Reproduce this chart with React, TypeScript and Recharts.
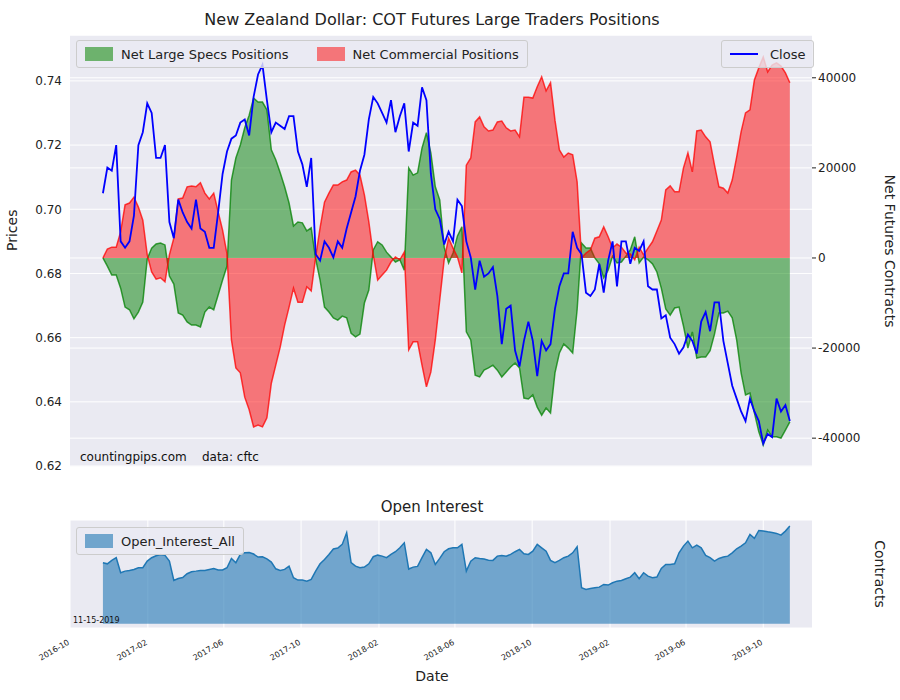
import { ComposedChart, AreaChart, Area, Line, XAxis, YAxis, CartesianGrid, Label } from 'recharts';

// weekly COT reports, first one 2016-11-22 (day 52 counted from 2016-10-01)
const FIRST_DAY = 52;

const closePrice = [
  0.705, 0.713, 0.712, 0.720, 0.690, 0.688, 0.690, 0.698, 0.720, 0.724, 0.733, 0.730, 0.716, 0.716, 0.720, 0.696,
  0.691, 0.703, 0.699, 0.696, 0.694, 0.703, 0.694, 0.693, 0.688, 0.688, 0.699, 0.711, 0.718, 0.722, 0.723, 0.727,
  0.728, 0.723, 0.735, 0.742, 0.745, 0.734, 0.724, 0.727, 0.726, 0.725, 0.729, 0.729, 0.718, 0.714, 0.707, 0.716,
  0.686, 0.684, 0.690, 0.688, 0.685, 0.690, 0.688, 0.694, 0.699, 0.704, 0.712, 0.717, 0.728, 0.735, 0.733, 0.730,
  0.727, 0.734, 0.724, 0.729, 0.733, 0.718, 0.727, 0.726, 0.738, 0.734, 0.711, 0.700, 0.697, 0.689, 0.693, 0.690,
  0.703, 0.701, 0.690, 0.685, 0.675, 0.684, 0.679, 0.680, 0.682, 0.673, 0.658, 0.669, 0.670, 0.656, 0.651, 0.659,
  0.665, 0.659, 0.648, 0.659, 0.656, 0.658, 0.669, 0.676, 0.680, 0.680, 0.693, 0.688, 0.686, 0.674, 0.673, 0.675,
  0.683, 0.674, 0.684, 0.690, 0.676, 0.690, 0.690, 0.683, 0.688, 0.687, 0.690, 0.676, 0.675, 0.675, 0.666, 0.667,
  0.660, 0.658, 0.655, 0.657, 0.661, 0.659, 0.655, 0.665, 0.668, 0.662, 0.671, 0.671, 0.659, 0.652, 0.645, 0.641,
  0.637, 0.634, 0.641, 0.637, 0.634, 0.627, 0.630, 0.629, 0.641, 0.637, 0.639, 0.634,
];

const netSpecs = [
  0, -1800, -3800, -3800, -6700, -10900, -11500, -13500, -12000, -9800, -200, 2200, 3100, 3300, 2900, -4000,
  -5800, -12200, -12700, -14200, -14900, -14900, -15300, -12000, -10900, -11500, -8200, -4900, -1800, 17300, 22200, 25100,
  28900, 31700, 35500, 34600, 34600, 32900, 24000, 21800, 18900, 15800, 12200, 7100, 8000, 7800, 6000, 6700,
  -200, -4900, -10900, -12000, -13300, -13800, -12900, -13300, -16700, -17500, -16900, -10000, -7100, 1800, 3600, 2900,
  1300, 200, -900, -400, -2700, 20000, 18400, 18900, 24400, 27800, 23300, 15800, 12900, 2400, -1100, 1100,
  4900, 6900, -16400, -18200, -26000, -26400, -24900, -24400, -23800, -24900, -26400, -25300, -24200, -23300, -24400, -31100,
  -31300, -30400, -33100, -34900, -33300, -34400, -25500, -21100, -19100, -20000, -21100, -11500, 3300, 2200, 2200, 0,
  -1300, -4400, -2700, 400, -1100, -900, 400, 1800, 4700, -1100, 200, -400, -1300, -3100, -6700, -11300,
  -12700, -11100, -10900, -15100, -20000, -16400, -22200, -22000, -22000, -20600, -16900, -12200, -12200, -11800, -13300, -18200,
  -25500, -30400, -30000, -34400, -38600, -41500, -38200, -39700, -39700, -40000, -38200, -36400,
];

const netCommercial = [
  0, 2000, 2400, 2400, 5800, 11800, 12200, 13500, 11300, 8400, 700, -3100, -4700, -4400, -5300, 700,
  4400, 13100, 13300, 15800, 16000, 15800, 16700, 14400, 13100, 14400, 10200, 6200, 900, -18200, -24400, -25500,
  -30900, -33700, -37500, -37100, -37500, -35500, -27800, -23800, -19800, -14900, -10900, -6700, -9800, -9800, -6400, -7300,
  200, 6700, 12400, 14400, 16200, 16200, 16900, 17300, 19100, 19500, 18400, 14000, 8000, 700, -4900, -3800,
  -2700, -900, 200, -400, 1300, -20400, -18600, -18600, -23800, -28600, -25300, -18200, -9300, -400, 4400, 2200,
  200, -3300, 20600, 22200, 30200, 31300, 29100, 28200, 28400, 30200, 30400, 28900, 28200, 28400, 26900, 35700,
  35700, 35500, 38000, 40200, 37100, 38900, 30600, 24000, 22400, 23300, 22900, 16900, 0, 1100, 1800, 4400,
  4700, 6900, 4700, 2200, 3100, 2400, 1100, 900, -400, 2400, 700, 2200, 3600, 6000, 8400, 15100,
  16000, 14700, 14700, 20000, 23300, 19100, 28200, 28400, 26900, 25800, 20600, 15800, 15500, 14400, 17300, 22400,
  28000, 32200, 32900, 39500, 42200, 44600, 41300, 42800, 43300, 42600, 41100, 38900,
];

const openInterest = [
  50000, 49100, 51900, 54100, 41800, 43100, 43700, 44500, 45900, 45900, 51300, 54100, 55700, 56800, 56000, 51300,
  35500, 37100, 37900, 41000, 42600, 43100, 43700, 43700, 44500, 45300, 44000, 44000, 45900, 53500, 50000, 56800,
  58100, 58400, 57100, 54600, 54900, 53200, 50500, 45000, 43700, 44500, 47200, 37700, 35800, 35800, 34900, 36300,
  43100, 49100, 52700, 56800, 61200, 62000, 65000, 74500, 50000, 47200, 45900, 46400, 49100, 54900, 56200, 55400,
  54100, 56800, 59000, 62200, 66300, 44800, 46400, 47000, 54100, 60900, 58100, 48600, 53500, 59000, 61400, 62200,
  62200, 65000, 43100, 51300, 54100, 53500, 53000, 52100, 51900, 55400, 56000, 55400, 56800, 59000, 60900, 57300,
  56800, 59500, 65000, 62200, 59500, 51900, 50000, 51900, 54100, 55400, 58100, 63100, 29500, 28100, 28900, 29500,
  30000, 32200, 31700, 33600, 34900, 35500, 36900, 38200, 41800, 36900, 41800, 39000, 37700, 38200, 45300, 48600,
  48600, 49100, 58100, 63600, 67700, 62200, 64400, 62200, 56000, 54100, 51300, 53500, 54600, 55400, 58100, 61400,
  63600, 66300, 73200, 69900, 76400, 75900, 75300, 74800, 74000, 72600, 75900, 80000,
];

const tickDays = [0, 123, 243, 365, 488, 608, 730, 853, 973, 1095];
const tickLabels = ['2016-10', '2017-02', '2017-06', '2017-10', '2018-02', '2018-06', '2018-10', '2019-02', '2019-06', '2019-10'];
const priceTicks = [0.62, 0.64, 0.66, 0.68, 0.70, 0.72, 0.74];
const netTicks = [-40000, -20000, 0, 20000, 40000];

const rows = closePrice.map((c, i) => ({
  day: FIRST_DAY + i * 7,
  close: c,
  specs: netSpecs[i],
  comm: netCommercial[i],
  oi: openInterest[i],
}));

const FONT = '"DejaVu Sans", sans-serif';
const BG = '#eaeaf2';
const fmtDate = (d: number) => tickLabels[tickDays.indexOf(d)] ?? '';

const DateTick = (props: any) => {
  const { x, y, payload } = props;
  return (
    <text x={x} y={y + 8} transform={`rotate(-30, ${x}, ${y + 8})`} textAnchor="end" fontSize={8} fill="#222" fontFamily={FONT}>
      {fmtDate(payload.value)}
    </text>
  );
};

const swatch = (color: string) => ({
  display: 'inline-block', width: 26, height: 12, background: color, border: `1px solid ${color}`, marginRight: 8, verticalAlign: 'middle',
});
const legendBox = {
  position: 'absolute' as const, background: 'rgba(234,234,242,0.8)', border: '1px solid #ccc', borderRadius: 3,
  fontSize: 13, color: '#222', padding: '4px 8px', display: 'flex', alignItems: 'center',
};

export default function App() {
  return (
    <div style={{ position: 'absolute', left: 0, top: 0, width: 900, height: 700, background: '#fff', fontFamily: FONT }}>
      <div style={{ position: 'absolute', top: 10, width: 900, left: -18, textAlign: 'center', fontSize: 16, color: '#222' }}>
        New Zealand Dollar: COT Futures Large Traders Positions
      </div>

      <div style={{ position: 'absolute', left: 0, top: 0 }}>
        <ComposedChart width={900} height={480} data={rows} margin={{ top: 35, right: 10, left: 10, bottom: 12 }}>
          <CartesianGrid yAxisId="price" fill={BG} stroke="#fff" strokeWidth={1} verticalValues={tickDays} />
          <CartesianGrid yAxisId="net" stroke="#fff" strokeWidth={1} vertical={false} />
          <XAxis dataKey="day" type="number" domain={[0, 1172]} ticks={tickDays} tick={false} axisLine={false} tickLine={false} height={1} />
          <YAxis yAxisId="price" orientation="left" width={60} domain={[0.6197, 0.7543]} ticks={priceTicks}
            tickFormatter={(v: number) => v.toFixed(2)} tick={{ fontSize: 12, fill: '#222', fontFamily: FONT }}
            axisLine={false} tickLine={false}>
            <Label value="Prices" angle={-90} position="insideLeft" offset={2} style={{ fontSize: 14, fill: '#222', fontFamily: FONT }} />
          </YAxis>
          <YAxis yAxisId="net" orientation="right" width={78} domain={[-46400, 49500]} ticks={netTicks}
            tick={{ fontSize: 12, fill: '#222', fontFamily: FONT }} axisLine={false} tickSize={4} tickLine={{ stroke: '#222' }}>
            <Label value="Net Futures Contracts" angle={90} position="insideRight" offset={0} style={{ fontSize: 14, fill: '#222', fontFamily: FONT, textAnchor: 'middle' }} />
          </YAxis>
          <Line yAxisId="price" dataKey="close" stroke="#0000ff" strokeWidth={1.8} dot={false} isAnimationActive={false} />
          <Area yAxisId="net" dataKey="specs" baseValue={0} stroke="green" strokeWidth={1.5} fill="green" fillOpacity={0.5} strokeOpacity={0.75} isAnimationActive={false} />
          <Area yAxisId="net" dataKey="comm" baseValue={0} stroke="red" strokeWidth={1.5} fill="red" fillOpacity={0.5} strokeOpacity={0.75} isAnimationActive={false} />
        </ComposedChart>
      </div>

      <div style={{ ...legendBox, left: 76, top: 40, height: 18 }}>
        <span style={swatch('#6db26d')} />Net Large Specs Positions
        <span style={{ ...swatch('#f47579'), marginLeft: 28 }} />Net Commercial Positions
      </div>
      <div style={{ ...legendBox, left: 721, top: 40, height: 18 }}>
        <span style={{ display: 'inline-block', width: 28, height: 2, background: '#0000ff', marginRight: 12 }} />Close
      </div>
      <div style={{ position: 'absolute', left: 80, top: 450, fontSize: 12, color: '#111' }}>
        countingpips.com&nbsp;&nbsp;&nbsp;&nbsp;data: cftc
      </div>

      <div style={{ position: 'absolute', top: 498, width: 900, left: -18, textAlign: 'center', fontSize: 15, color: '#222' }}>
        Open Interest
      </div>
      <div style={{ position: 'absolute', left: 0, top: 510 }}>
        <AreaChart width={900} height={190} data={rows} margin={{ top: 10, right: 10, left: 10, bottom: 27 }}>
          <CartesianGrid fill={BG} stroke="#fff" strokeWidth={1} verticalValues={tickDays} />
          <XAxis dataKey="day" type="number" domain={[0, 1172]} ticks={tickDays} tick={<DateTick />} axisLine={false} tickLine={false} height={45} />
          <YAxis orientation="left" width={60} tick={false} axisLine={false} tickLine={false} domain={[-3500, 85000]} ticks={[0, 50000]} />
          <YAxis yAxisId="r" orientation="right" width={78} domain={[-3500, 85000]} ticks={[0, 50000]}
            tick={{ fontSize: 8, fill: '#222', fontFamily: FONT }} axisLine={false} tickSize={4} tickLine={{ stroke: '#222' }}>
            <Label value="Contracts" angle={90} position="insideRight" offset={10} style={{ fontSize: 14, fill: '#222', fontFamily: FONT, textAnchor: 'middle' }} />
          </YAxis>
          <Area dataKey="oi" baseValue={0} stroke="#1f77b4" strokeWidth={1.5} fill="#1f77b4" fillOpacity={0.6} isAnimationActive={false} />
        </AreaChart>
      </div>
      <div style={{ ...legendBox, left: 76, top: 527, height: 18, fontSize: 13 }}>
        <span style={swatch('#70a5cd')} />Open_Interest_All
      </div>
      <div style={{ position: 'absolute', left: 73, top: 616, fontSize: 8, color: '#111' }}>11-15-2019</div>
      <div style={{ position: 'absolute', top: 668, width: 900, left: -18, textAlign: 'center', fontSize: 14, color: '#222' }}>Date</div>
    </div>
  );
}
